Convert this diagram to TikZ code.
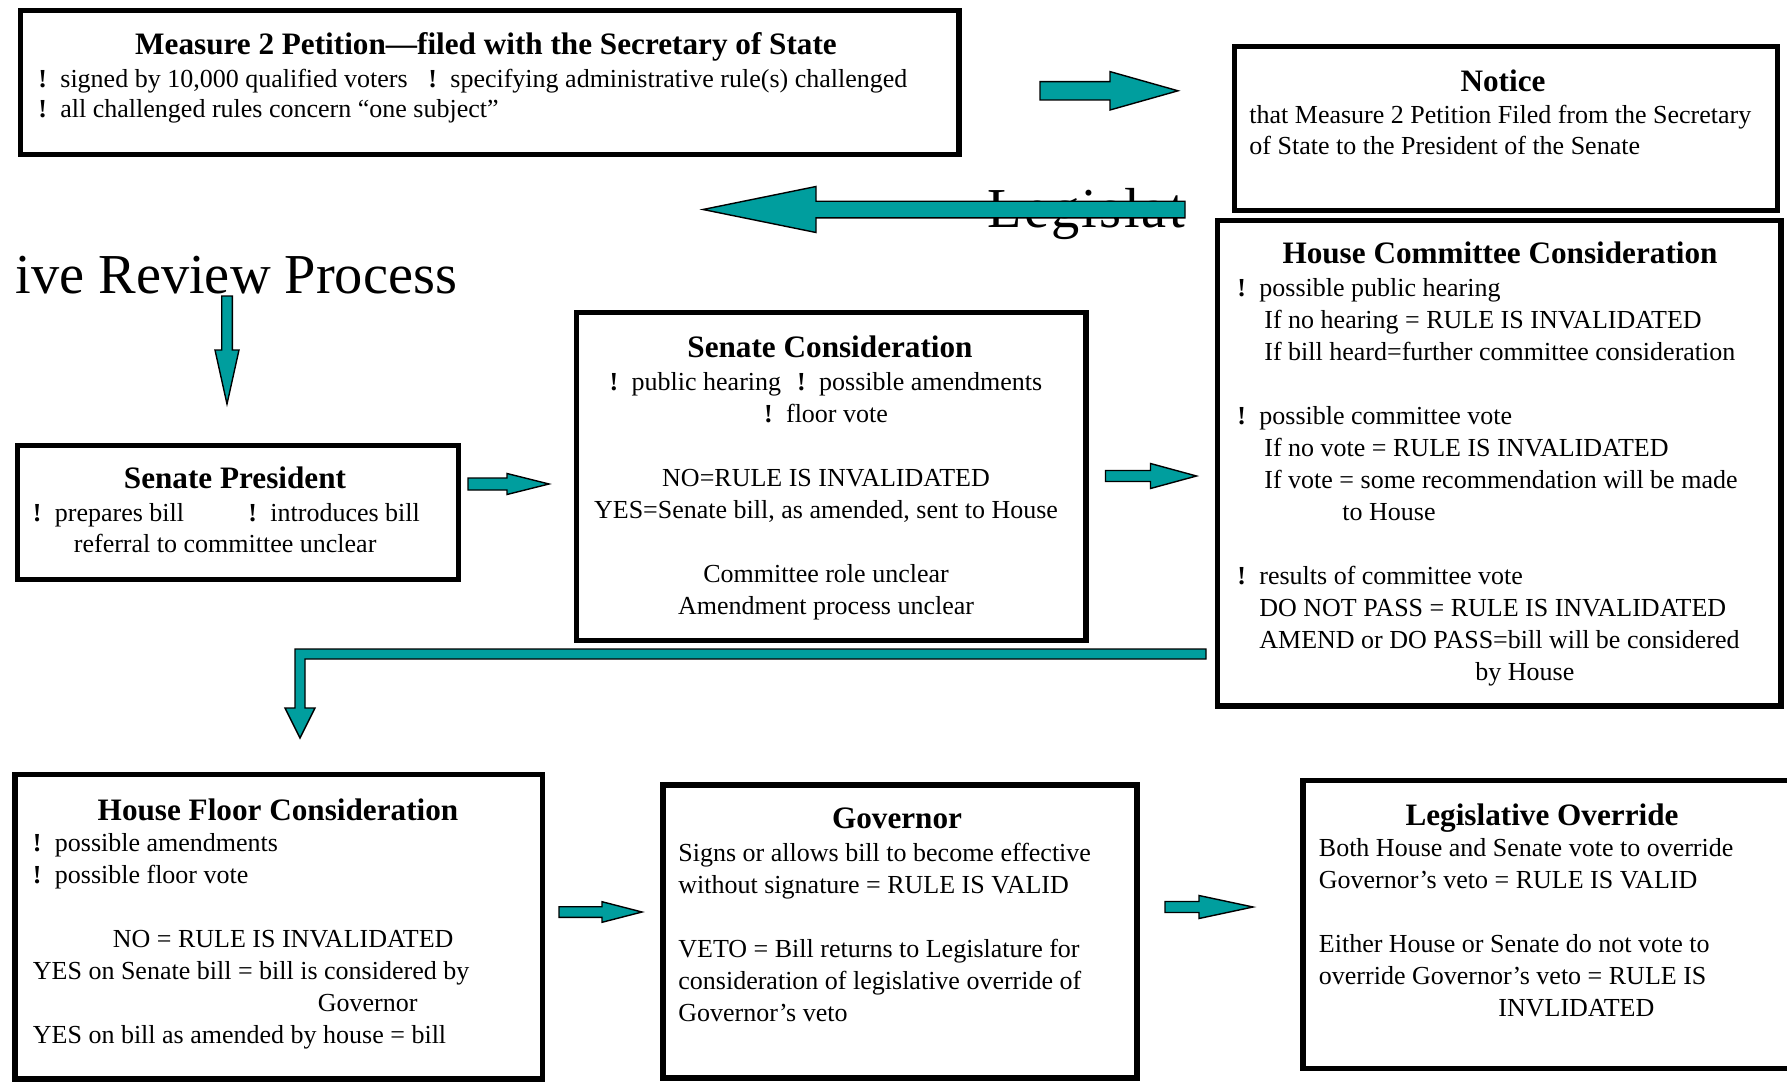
\documentclass[tikz,border=0pt]{standalone}
\usepackage{fontspec}
\setmainfont{Liberation Serif}
\usetikzlibrary{fit}
\definecolor{arrteal}{RGB}{0,158,158}
\newcommand\bodyf{\fontsize{13}{16}\selectfont}
\newcommand\ttlf{\fontsize{15.6}{18}\selectfont\bfseries}
\newcommand\bigf{\fontsize{28.2}{33}\selectfont}
\newcommand\bl{\makebox[11pt][l]{\textbf{!}}}
\newcommand\barrow[6]{\draw[arr,shift={(#1)},rotate=#2](0,-#4)--(#3-#6,-#4)--(#3-#6,-#5)--(#3,0)--(#3-#6,#5)--(#3-#6,#4)--(0,#4)--cycle;}
\begin{document}
\begin{tikzpicture}[x=.5pt,y=-.5pt,box/.style={draw,line width=2.75pt,inner sep=0pt},ttl/.style={anchor=base,font=\ttlf,inner sep=0pt},txt/.style={anchor=base west,align=left,font=\bodyf,inner sep=0pt},arr/.style={fill=arrteal,draw=black,line width=.7pt,line join=miter}]
                     \useasboundingbox(0,0)rectangle(1787,1081);
                     \clip(0,0)rectangle(1787,1081);
                     \node[box,fit={(20.5,10.5)(959,154.5)}]       (meas)   {};
                     \node[box,fit={(1234.5,46.5)(1777.5,210.5)}]  (notice) {};
                     \node[box,fit={(1217.5,220.5)(1781,706)}]     (hcomm)  {};
                     \node[box,fit={(17.6,445.5)(458.6,579.7)}]    (senpres){};
                     \node[box,fit={(576.5,312.5)(1086,640.5)}]    (sencons){};
                     \node[box,fit={(15,774.5)(542.5,1079)}]       (hfloor) {};
                     \node[box,fit={(663,785)(1137,1078)}]         (gov)    {};
                     \node[box,fit={(1303,780.5)(1795,1068.5)}]    (overr)  {};
                     \node[ttl] (measT)   at (486,55)   {Measure 2 Petition—filed with the Secretary of State};
                     \node[txt] (measB)   at (38,118)   {\makebox[195pt][l]{\bl signed by 10,000 qualified voters}\bl specifying administrative rule(s) challenged\\[-1pt]
                                                         \bl all challenged rules concern “one subject”};
                     \node[ttl] (noticeT) at (1503,92)  {Notice};
                     \node[txt] (noticeB) at (1249,155) {that Measure 2 Petition Filed from the Secretary\\[-0.5pt]of State to the President of the Senate};
                     \node[ttl] (hcommT)  at (1500,263) {House Committee Consideration};
                     \node[txt] (hcommB)  at (1237,680) {\bl possible public hearing\\
                                                         \hspace*{13.5pt}If no hearing = RULE IS INVALIDATED\\
                                                         \hspace*{13.5pt}If bill heard=further committee consideration\\[16pt]
                                                         \bl possible committee vote\\
                                                         \hspace*{13.5pt}If no vote = RULE IS INVALIDATED\\
                                                         \hspace*{13.5pt}If vote = some recommendation will be made\\
                                                         \hspace*{52.5pt}to House\\[16pt]
                                                         \bl results of committee vote\\
                                                         \hspace*{11pt}DO NOT PASS = RULE IS INVALIDATED\\
                                                         \hspace*{11pt}AMEND or DO PASS=bill will be considered\\
                                                         \hspace*{119pt}by House};
                     \node[ttl] (senpresT) at (235,488) {Senate President};
                     \node[txt] (senpresB) at (32.5,552.7) {\makebox[107.75pt][l]{\bl prepares bill}\bl introduces bill\\[-0.5pt]
                                                         \hspace*{20.5pt}referral to committee unclear};
                     \node[ttl] (senconsT) at (830,357) {Senate Consideration};
                     \node[txt,anchor=base,align=center] (senconsB) at (826,614) {\bl public hearing\hspace{8pt}\bl possible amendments\\
                                                         \bl floor vote\\[16pt]
                                                         NO=RULE IS INVALIDATED\\
                                                         YES=Senate bill, as amended, sent to House\\[16pt]
                                                         Committee role unclear\\
                                                         Amendment process unclear};
                     \node[ttl] (hfloorT) at (278,820)  {House Floor Consideration};
                     \node[txt] (hfloorB) at (32.5,1043.7) {\bl possible amendments\\
                                                         \bl possible floor vote\\[16pt]
                                                         \hspace*{40pt}NO = RULE IS INVALIDATED\\
                                                         YES on Senate bill = bill is considered by\\
                                                         \hspace*{142.5pt}Governor\\
                                                         YES on bill as amended by house = bill};
                     \node[ttl] (govT)    at (897,828)  {Governor};
                     \node[txt] (govB)    at (678,1021) {Signs or allows bill to become effective\\
                                                         without signature = RULE IS VALID\\[16pt]
                                                         VETO = Bill returns to Legislature for\\
                                                         consideration of legislative override of\\
                                                         Governor’s veto};
                     \node[ttl] (overrT)  at (1542,825) {Legislative Override};
                     \node[txt] (overrB)  at (1318.5,1016.7) {Both House and Senate vote to override\\
                                                         Governor’s veto = RULE IS VALID\\[16pt]
                                                         Either House or Senate do not vote to\\
                                                         override Governor’s veto = RULE IS\\
                                                         \hspace*{89.75pt}INVLIDATED};
                     \node[anchor=base west,font=\bigf\addfontfeature{LetterSpace=4},inner sep=0pt] (head1) at (987,227) {Legislat};
                     \node[anchor=base west,font=\bigf,inner sep=0pt] (head2) at (15,293) {ive Review Process};
                     \coordinate (a1) at (1040,90.8);
                     \coordinate (a2) at (1185,209.5);
                     \coordinate (a3) at (227,296);
                     \coordinate (a4) at (468,484);
                     \coordinate (a5) at (1105.5,476);
                     \coordinate (a6) at (1206,649);
                     \coordinate (a7) at (559,912);
                     \coordinate (a8) at (1165,907);
                     \barrow{a1}{0}{138}{9.2}{19.2}{68}
                     \barrow{a2}{180}{482}{8.3}{23}{113}
                     \barrow{a3}{-90}{108}{5.3}{12}{54}
                     \barrow{a4}{0}{81}{6}{10.5}{42}
                     \barrow{a5}{0}{91}{5.5}{12.5}{46}
                     \barrow{a7}{0}{83}{5.3}{10.3}{40}
                     \barrow{a8}{0}{88}{5.5}{11.5}{54}
                     \draw[arr] (a6)--++(-911,0)--++(0,59)--++(-10,0)--++(15,30)--++(15,-30)--++(-10,0)--++(0,-49)--++(901,0)--cycle;
\end{tikzpicture}
\end{document}
